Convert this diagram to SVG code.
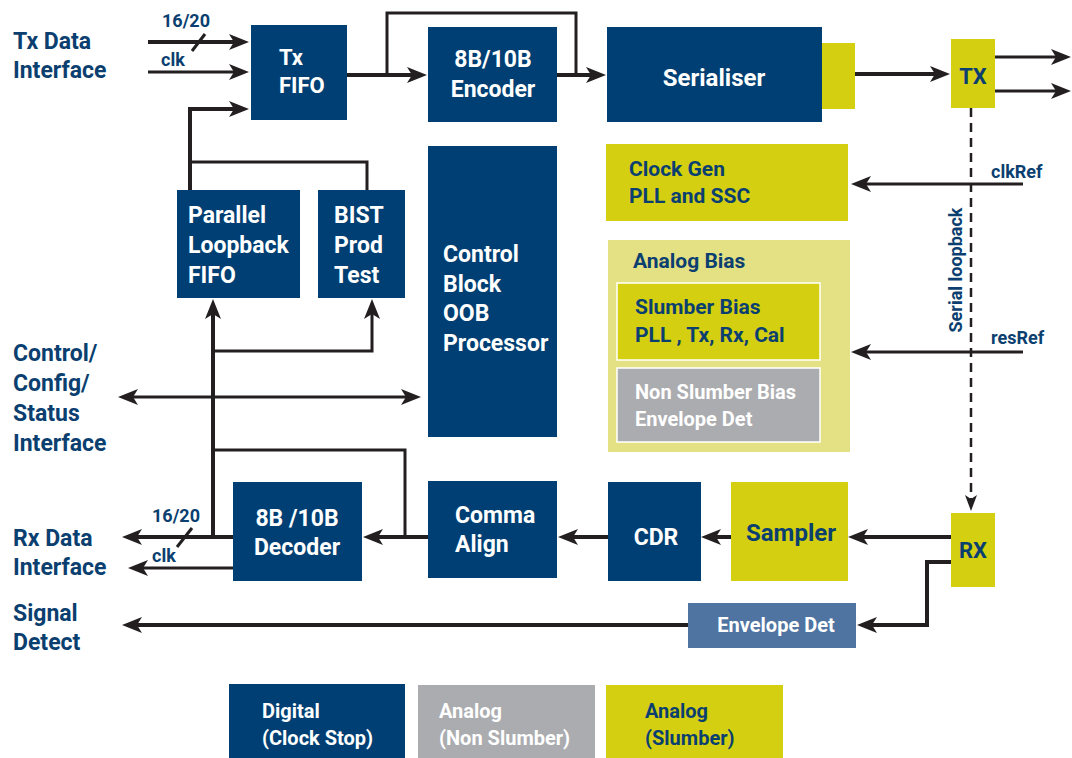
<svg xmlns="http://www.w3.org/2000/svg" width="1072" height="758" viewBox="0 0 1072 758">
<defs>
<style>
.d{fill:#003F73}
.y{fill:#D4D011}
.ly{fill:#E4E184}
.g{fill:#ABACAF}
.e{fill:#4F74A1}
.t{font-family:Roboto,"Liberation Sans",sans-serif;font-weight:bold;font-size:23px;fill:#ffffff}
.tb{font-family:Roboto,"Liberation Sans",sans-serif;font-weight:bold;font-size:23px;fill:#0B3F70}
.s{font-family:Roboto,"Liberation Sans",sans-serif;font-weight:bold;font-size:18px;fill:#0B3F70}
.ln{fill:none;stroke:#231F20;stroke-width:4}
.th{fill:none;stroke:#231F20;stroke-width:3}
.ar{marker-end:url(#ah)}
</style>
<marker id="ah" viewBox="0 0 20 16" refX="10" refY="8" markerWidth="20" markerHeight="16" markerUnits="userSpaceOnUse" orient="auto-start-reverse">
<path d="M0,0 L20,8 L0,16 L5,8 Z" fill="#231F20"/>
</marker>
</defs>
<rect width="1072" height="758" fill="#ffffff"/>

<g id="connectors">
<path class="ln ar" d="M148,42 H239"/>
<path class="th ar" d="M148,72 H239"/>
<path class="th" d="M192,51 L205,34"/>
<path class="ln ar" d="M190,190 V109 H239"/>
<path class="th" d="M190,162 H367 V190"/>
<path class="ln ar" d="M347,75 H417"/>
<path class="th" d="M387,75 V13 H576 V75"/>
<path class="ln ar" d="M557,75 H596"/>
<path class="ln ar" d="M855,74 H940"/>
<path class="th ar" d="M995,57 H1061"/>
<path class="th ar" d="M995,91 H1061"/>
<path class="th ar" d="M1023,184 H861"/>
<path class="th ar" d="M1023,352 H861"/>
<path fill="none" stroke="#231F20" stroke-width="2.5" stroke-dasharray="9 6" d="M971,108 V501"/>
<path d="M965,495 L971,511 L977,495 L971,499 Z" fill="#231F20"/>
<path class="ln ar" d="M213,537 V309"/>
<path class="th ar" d="M213,351 H372 V309"/>
<path class="th" d="M213,450 H405 V537"/>
<path class="th" d="M128,397 H411" marker-start="url(#ah)" marker-end="url(#ah)"/>
<path class="ln ar" d="M951,537 H858"/>
<path class="ln ar" d="M731,537 H711"/>
<path class="ln ar" d="M608,537 H568"/>
<path class="ln ar" d="M428,537 H373"/>
<path class="ln ar" d="M233,537 H132"/>
<path class="th" d="M177,547 L192,528"/>
<path class="th ar" d="M233,568 H138"/>
<path class="ln ar" d="M951,562 H927 V625 H867"/>
<path class="ln ar" d="M688,625 H132"/>
</g>

<g id="labels">
<text class="tb" x="13" y="49">Tx Data</text>
<text class="tb" x="13" y="78">Interface</text>
<text class="s" x="162" y="27">16/20</text>
<text class="s" x="161" y="66">clk</text>
<text class="tb" x="13" y="361">Control/</text>
<text class="tb" x="13" y="391">Config/</text>
<text class="tb" x="13" y="421">Status</text>
<text class="tb" x="13" y="451">Interface</text>
<text class="tb" x="13" y="546">Rx Data</text>
<text class="tb" x="13" y="575">Interface</text>
<text class="s" x="152" y="522">16/20</text>
<text class="s" x="152" y="562">clk</text>
<text class="tb" x="13" y="621">Signal</text>
<text class="tb" x="13" y="650">Detect</text>
<text class="s" x="991" y="178">clkRef</text>
<text class="s" x="991" y="344">resRef</text>
<text class="s" transform="translate(962,270) rotate(-90)" text-anchor="middle">Serial loopback</text>
</g>

<g id="txfifo">
<rect class="d" x="251" y="25" width="96" height="95"/>
<text class="t" x="279" y="65" style="font-size:22px">Tx</text>
<text class="t" x="279" y="93" style="font-size:22px">FIFO</text>
</g>
<g id="encoder">
<rect class="d" x="428" y="27" width="129" height="95"/>
<text class="t" x="493" y="67" text-anchor="middle">8B/10B</text>
<text class="t" x="493" y="97" text-anchor="middle">Encoder</text>
</g>
<g id="serialiser">
<rect class="d" x="607" y="27" width="215" height="95"/>
<rect class="y" x="822" y="43" width="33" height="66"/>
<text class="t" x="714" y="86" text-anchor="middle" style="font-size:24px">Serialiser</text>
</g>
<g id="tx">
<rect class="y" x="951" y="39" width="44" height="69"/>
<text class="tb" x="973" y="84" text-anchor="middle" style="font-size:22px">TX</text>
</g>
<g id="parallel">
<rect class="d" x="177" y="190" width="123" height="108"/>
<text class="t" x="188" y="223">Parallel</text>
<text class="t" x="188" y="253">Loopback</text>
<text class="t" x="188" y="283">FIFO</text>
</g>
<g id="bist">
<rect class="d" x="318" y="190" width="87" height="108"/>
<text class="t" x="334" y="223">BIST</text>
<text class="t" x="334" y="253">Prod</text>
<text class="t" x="334" y="283">Test</text>
</g>
<g id="control">
<rect class="d" x="428" y="146" width="129" height="291"/>
<text class="t" x="443" y="262">Control</text>
<text class="t" x="443" y="292">Block</text>
<text class="t" x="443" y="321">OOB</text>
<text class="t" x="443" y="351">Processor</text>
</g>
<g id="clockgen">
<rect class="y" x="606" y="144" width="242" height="77"/>
<text class="tb" x="629" y="176" style="font-size:21px">Clock Gen</text>
<text class="tb" x="629" y="203" style="font-size:21px">PLL and SSC</text>
</g>
<g id="analogbias">
<rect class="ly" x="608" y="240" width="242" height="212"/>
<text class="tb" x="633" y="268" style="font-size:21px">Analog Bias</text>
<rect class="y" x="617" y="283" width="203" height="77" stroke="#ffffff" stroke-width="1.5"/>
<text class="tb" x="635" y="314" style="font-size:21px">Slumber Bias</text>
<text class="tb" x="635" y="342" style="font-size:21px">PLL , Tx, Rx, Cal</text>
<rect class="g" x="617" y="368" width="203" height="74" stroke="#ffffff" stroke-width="1.5"/>
<text class="t" x="635" y="399" style="font-size:20px">Non Slumber Bias</text>
<text class="t" x="635" y="426" style="font-size:20px">Envelope Det</text>
</g>
<g id="decoder">
<rect class="d" x="233" y="482" width="129" height="99"/>
<text class="t" x="297" y="526" text-anchor="middle">8B /10B</text>
<text class="t" x="297" y="555" text-anchor="middle">Decoder</text>
</g>
<g id="comma">
<rect class="d" x="428" y="481" width="129" height="97"/>
<text class="t" x="455" y="523">Comma</text>
<text class="t" x="455" y="552">Align</text>
</g>
<g id="cdr">
<rect class="d" x="608" y="482" width="93" height="99"/>
<text class="t" x="656" y="545" text-anchor="middle">CDR</text>
</g>
<g id="sampler">
<rect class="y" x="731" y="482" width="117" height="99"/>
<text class="tb" x="791" y="541" text-anchor="middle" style="font-size:24px">Sampler</text>
</g>
<g id="rx">
<rect class="y" x="951" y="513" width="44" height="74"/>
<text class="tb" x="973" y="558" text-anchor="middle" style="font-size:22px">RX</text>
</g>
<g id="envdet">
<rect class="e" x="688" y="603" width="168" height="45"/>
<text class="t" x="776" y="632" text-anchor="middle" style="font-size:20px">Envelope Det</text>
</g>
<g id="legend">
<rect class="d" x="229" y="684" width="176" height="74"/>
<text class="t" x="262" y="718" style="font-size:20px">Digital</text>
<text class="t" x="262" y="745" style="font-size:20px">(Clock Stop)</text>
<rect class="g" x="418" y="685" width="177" height="73"/>
<text class="t" x="439" y="718" style="font-size:20px">Analog</text>
<text class="t" x="439" y="745" style="font-size:20px">(Non Slumber)</text>
<rect class="y" x="606" y="685" width="177" height="73"/>
<text class="tb" x="645" y="718" style="font-size:20px">Analog</text>
<text class="tb" x="645" y="745" style="font-size:20px">(Slumber)</text>
</g>
</svg>
